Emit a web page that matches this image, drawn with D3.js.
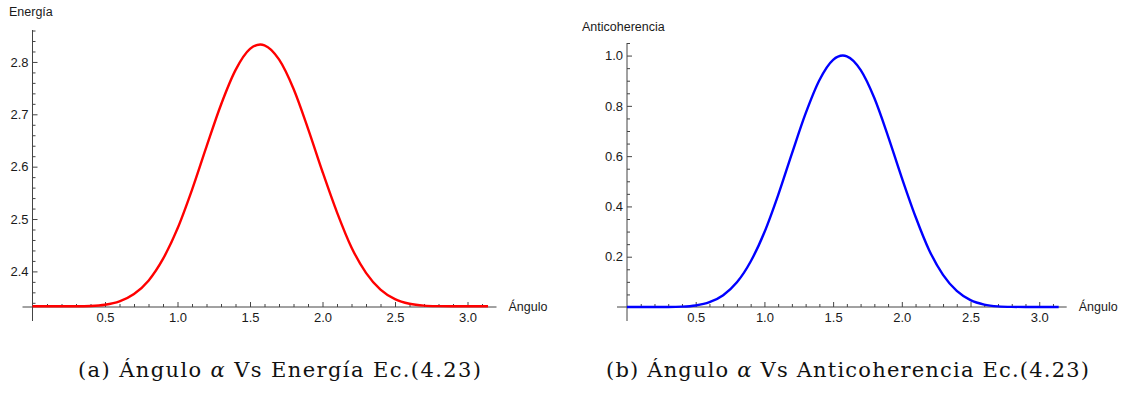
<!DOCTYPE html>
<html>
<head>
<meta charset="utf-8">
<script src="https://cdn.jsdelivr.net/npm/d3@7"></script>
<style>
  body { margin: 0; background: #fff; }
  svg { display: block; }
</style>
</head>
<body>
<svg id="chart" width="1127" height="393"></svg>
<script>
// angle samples (radians)
const angulo = [0, 0.1, 0.2, 0.3, 0.4, 0.5, 0.6, 0.7, 0.8, 0.9, 1.0, 1.1, 1.2, 1.3, 1.4, 1.5,
    1.5708, 1.6, 1.7, 1.8, 1.9, 2.0, 2.1, 2.2, 2.3, 2.4, 2.5, 2.6, 2.7, 2.8, 2.9, 3.0, 3.1, 3.1416];

// panel (a) energy
const energia = [2.3333, 2.3333, 2.3333, 2.3334, 2.3340, 2.3363, 2.3428, 2.3568, 2.3823, 2.4238,
    2.4818, 2.5558, 2.6383, 2.7183, 2.7843, 2.8248, 2.8333, 2.8318, 2.8048, 2.7488, 2.6728,
    2.5903, 2.5128, 2.4458, 2.3973, 2.3653, 2.3471, 2.3382, 2.3346, 2.3336, 2.3333, 2.3333,
    2.3333, 2.3333];

// panel (b) anticoherence
const anticoherencia = [0, 0, 0, 0.0002, 0.0014, 0.006, 0.019, 0.047, 0.098, 0.181, 0.297,
    0.445, 0.610, 0.770, 0.902, 0.983, 1.000, 0.997, 0.943, 0.831, 0.679, 0.514, 0.359, 0.225,
    0.128, 0.064, 0.0275, 0.0097, 0.0026, 0.0005, 0, 0, 0, 0];

const anguloTicks = [0.5, 1.0, 1.5, 2.0, 2.5, 3.0];
const anguloMinor = [0.1, 0.2, 0.3, 0.4, 0.6, 0.7, 0.8, 0.9, 1.1, 1.2, 1.3, 1.4, 1.6, 1.7, 1.8,
    1.9, 2.1, 2.2, 2.3, 2.4, 2.6, 2.7, 2.8, 2.9, 3.1];
const energiaTicks = [2.4, 2.5, 2.6, 2.7, 2.8];
const energiaMinor = [2.34, 2.36, 2.38, 2.42, 2.44, 2.46, 2.48, 2.52, 2.54, 2.56, 2.58, 2.62,
    2.64, 2.66, 2.68, 2.72, 2.74, 2.76, 2.78, 2.82, 2.84, 2.86];
const antiTicks = [0.2, 0.4, 0.6, 0.8, 1.0];
const antiMinor = [0.05, 0.1, 0.15, 0.25, 0.3, 0.35, 0.45, 0.5, 0.55, 0.65, 0.7, 0.75, 0.85,
    0.9, 0.95, 1.05];

const svg = d3.select("#chart");
const axisColor = "#444";
const font = "'Liberation Sans', Arial, sans-serif";

function drawPanel(p) {
    const x = d3.scaleLinear().domain([0, 3.2]).range([p.x0, p.x1]);
    const y = d3.scaleLinear().domain(p.ydomain).range([307, p.ytop]);
    const g = svg.append("g");

    // axis lines
    g.append("line")
        .attr("x1", p.x0 - 10).attr("x2", p.x1)
        .attr("y1", 307).attr("y2", 307)
        .attr("stroke", axisColor).attr("stroke-width", 1);
    g.append("line")
        .attr("x1", p.x0).attr("x2", p.x0)
        .attr("y1", p.ytop).attr("y2", 321)
        .attr("stroke", axisColor).attr("stroke-width", 1);

    // x ticks
    const xa = g.append("g").attr("transform", "translate(0,307)")
        .call(d3.axisBottom(x).tickValues(anguloTicks).tickSize(-5).tickPadding(6)
            .tickFormat(d3.format(".1f")));
    const xm = g.append("g").attr("transform", "translate(0,307)")
        .call(d3.axisBottom(x).tickValues(anguloMinor).tickSize(-3).tickFormat(""));

    // y ticks
    const ya = g.append("g").attr("transform", "translate(" + p.x0 + ",0)")
        .call(d3.axisLeft(y).tickValues(p.ticks).tickSize(-5).tickPadding(4)
            .tickFormat(d3.format(".1f")));
    const ym = g.append("g").attr("transform", "translate(" + p.x0 + ",0)")
        .call(d3.axisLeft(y).tickValues(p.minor).tickSize(-3).tickFormat(""));

    [xa, xm, ya, ym].forEach(function(a) {
        a.select(".domain").remove();
        a.selectAll(".tick line").attr("stroke", axisColor);
        a.selectAll("text").attr("fill", "#1a1a1a")
            .style("font-family", font).style("font-size", "13px");
    });

    // curve
    const line = d3.line()
        .x(function(d, i) { return x(angulo[i]); })
        .y(function(d) { return y(d); })
        .curve(d3.curveMonotoneX);
    g.append("path")
        .datum(p.values)
        .attr("d", line)
        .attr("fill", "none")
        .attr("stroke", p.color)
        .attr("stroke-width", 2.4);

    // axis labels
    g.append("text").text(p.ylabel)
        .attr("x", p.ylabelX).attr("y", p.ylabelY)
        .style("font-family", font).style("font-size", "12.5px").attr("fill", "#1a1a1a");
    g.append("text").text("Ángulo")
        .attr("x", p.x1 + 12).attr("y", 311)
        .style("font-family", font).style("font-size", "12.5px").attr("fill", "#1a1a1a");

    // caption
    const cap = g.append("text")
        .attr("x", p.capX).attr("y", 377)
        .attr("textLength", p.capW).attr("lengthAdjust", "spacing")
        .style("font-family", "'DejaVu Serif', 'Liberation Serif', serif")
        .style("font-size", "21px").attr("fill", "#111");
    cap.append("tspan").text(p.capPrefix + "  Ángulo ");
    cap.append("tspan").text("α").style("font-style", "italic");
    cap.append("tspan").text(" Vs " + p.capName + " Ec.(4.23)");
}

drawPanel({
    x0: 32.5, x1: 496.5, ydomain: [2.332, 2.861], ytop: 30,
    ticks: energiaTicks, minor: energiaMinor, values: energia, color: "#ff0000",
    ylabel: "Energía", ylabelX: 9, ylabelY: 16,
    capX: 78, capW: 403, capPrefix: "(a)", capName: "Energía"
});

drawPanel({
    x0: 627, x1: 1066.7, ydomain: [0, 1.05], ytop: 43,
    ticks: antiTicks, minor: antiMinor, values: anticoherencia, color: "#0000ff",
    ylabel: "Anticoherencia", ylabelX: 582, ylabelY: 31,
    capX: 606, capW: 483, capPrefix: "(b)", capName: "Anticoherencia"
});
</script>
</body>
</html>
